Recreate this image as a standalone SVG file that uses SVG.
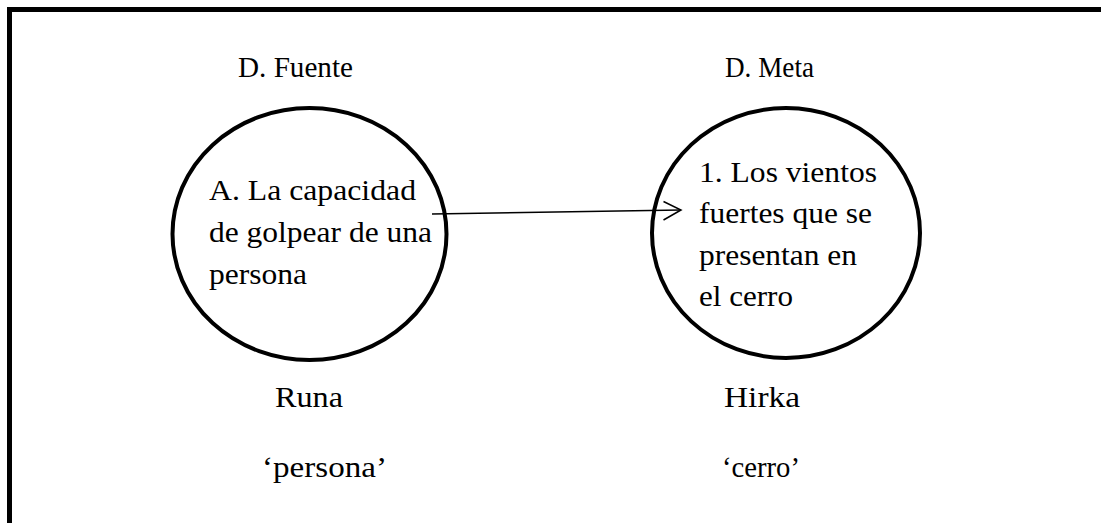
<svg xmlns="http://www.w3.org/2000/svg" width="1101" height="523" viewBox="0 0 1101 523">
<style>
text{font-family:"Liberation Serif","Times New Roman",Times,serif;font-size:29px;fill:#000}
.node{fill:none;stroke:#000;stroke-width:4}
.conn{fill:none;stroke:#000;stroke-width:1.5}
</style>
<rect width="1101" height="523" fill="#fff"/>
<rect x="9.5" y="9.5" width="1100" height="530" fill="none" stroke="#000" stroke-width="5"/>
<g id="labels">
<text x="238" y="77" textLength="115" lengthAdjust="spacingAndGlyphs">D. Fuente</text>
<text x="725" y="77" textLength="89" lengthAdjust="spacingAndGlyphs">D. Meta</text>
<text x="275" y="407" textLength="68" lengthAdjust="spacingAndGlyphs">Runa</text>
<text x="262" y="477" textLength="125" lengthAdjust="spacingAndGlyphs">‘persona’</text>
<text x="724" y="407" textLength="76" lengthAdjust="spacingAndGlyphs">Hirka</text>
<text x="722" y="477" textLength="78" lengthAdjust="spacingAndGlyphs">‘cerro’</text>
</g>
<g id="node-fuente">
<ellipse class="node" cx="309.5" cy="234" rx="137" ry="126"/>
<text x="209" y="200" textLength="207" lengthAdjust="spacingAndGlyphs">A. La capacidad</text>
<text x="209" y="242" textLength="223" lengthAdjust="spacingAndGlyphs">de golpear de una</text>
<text x="209" y="284" textLength="98" lengthAdjust="spacingAndGlyphs">persona</text>
</g>
<g id="node-meta">
<ellipse class="node" cx="786" cy="233" rx="134" ry="125"/>
<text x="699" y="181.5" textLength="178" lengthAdjust="spacingAndGlyphs">1. Los vientos</text>
<text x="699" y="223" textLength="173" lengthAdjust="spacingAndGlyphs">fuertes que se</text>
<text x="699" y="264.5" textLength="158" lengthAdjust="spacingAndGlyphs">presentan en</text>
<text x="699" y="306" textLength="94" lengthAdjust="spacingAndGlyphs">el cerro</text>
</g>
<g id="connectors">
<line class="conn" x1="432" y1="214" x2="681" y2="210"/>
<polyline class="conn" points="663.5,201.5 681,210 663.5,220"/>
</g>
</svg>
